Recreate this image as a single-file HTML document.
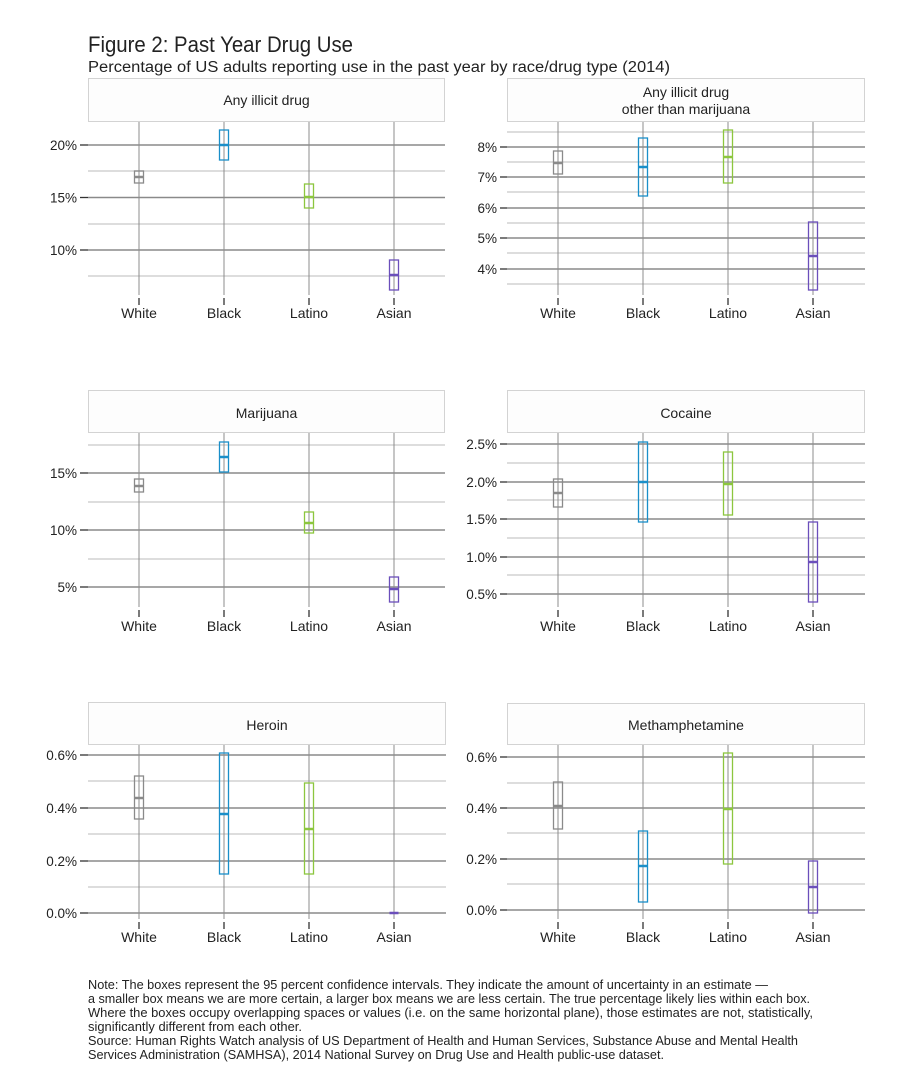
<!DOCTYPE html>
<html><head><meta charset="utf-8"><style>
html,body{margin:0;padding:0;background:#fff;}
svg{display:block;}
text{font-family:"Liberation Sans",sans-serif;fill:#222;}
.mn{stroke:#d2d2d2;stroke-width:1.5;}
.mj{stroke:#8a8a8a;stroke-width:1.4;}
.vl{stroke:#8c8c8c;stroke-width:1;}
.tk{stroke:#333;stroke-width:1.3;}
.strip{fill:#fdfdfd;stroke:#d3d3d3;stroke-width:1;}
.yl{font-size:13.5px;text-anchor:end;}
.xl{font-size:14px;text-anchor:middle;}
.st{font-size:14px;text-anchor:middle;}
.nt{font-size:13px;}
.bw{fill:none;stroke:#8a8a8a;stroke-width:1.3;}
.bb{fill:none;stroke:#1a8fc9;stroke-width:1.3;}
.bl{fill:none;stroke:#8cc63e;stroke-width:1.3;}
.ba{fill:none;stroke:#6b4fbb;stroke-width:1.3;}
.mw{stroke:#8a8a8a;stroke-width:2.5;}
.mb{stroke:#1a8fc9;stroke-width:2.5;}
.ml{stroke:#8cc63e;stroke-width:2.5;}
.ma{stroke:#6b4fbb;stroke-width:2.5;}
</style></head><body>
<svg width="900" height="1080" viewBox="0 0 900 1080" xmlns="http://www.w3.org/2000/svg">
<rect width="900" height="1080" fill="#fff"/>
<text x="88" y="52" font-size="22" textLength="265" lengthAdjust="spacingAndGlyphs">Figure 2: Past Year Drug Use</text>
<text x="88" y="72" font-size="15.5" textLength="582" lengthAdjust="spacingAndGlyphs">Percentage of US adults reporting use in the past year by race/drug type (2014)</text>

<!-- Panel 1 -->
<rect class="strip" x="88.5" y="78.5" width="356" height="43"/>
<text class="st" x="266.5" y="105">Any illicit drug</text>
<line class="mn" x1="88" x2="445" y1="171" y2="171"/>
<line class="mn" x1="88" x2="445" y1="224" y2="224"/>
<line class="mn" x1="88" x2="445" y1="276" y2="276"/>
<line class="mj" x1="88" x2="445" y1="145" y2="145"/>
<line class="mj" x1="88" x2="445" y1="197.5" y2="197.5"/>
<line class="mj" x1="88" x2="445" y1="250" y2="250"/>
<line class="tk" x1="80" x2="88" y1="145" y2="145"/>
<line class="tk" x1="80" x2="88" y1="197.5" y2="197.5"/>
<line class="tk" x1="80" x2="88" y1="250" y2="250"/>
<text class="yl" x="77" y="150">20%</text>
<text class="yl" x="77" y="202.5">15%</text>
<text class="yl" x="77" y="255">10%</text>
<line class="vl" x1="139" x2="139" y1="122" y2="295"/>
<line class="vl" x1="224" x2="224" y1="122" y2="295"/>
<line class="vl" x1="309" x2="309" y1="122" y2="295"/>
<line class="vl" x1="394" x2="394" y1="122" y2="295"/>
<line class="tk" x1="139" x2="139" y1="298" y2="305"/>
<line class="tk" x1="224" x2="224" y1="298" y2="305"/>
<line class="tk" x1="309" x2="309" y1="298" y2="305"/>
<line class="tk" x1="394" x2="394" y1="298" y2="305"/>
<text class="xl" x="139" y="318">White</text>
<text class="xl" x="224" y="318">Black</text>
<text class="xl" x="309" y="318">Latino</text>
<text class="xl" x="394" y="318">Asian</text>
<rect class="bw" x="134.5" y="171" width="9" height="12"/><line class="mw" x1="134.5" x2="143.5" y1="177" y2="177"/>
<rect class="bb" x="219.5" y="130" width="9" height="30"/><line class="mb" x1="219.5" x2="228.5" y1="145" y2="145"/>
<rect class="bl" x="304.5" y="184" width="9" height="24"/><line class="ml" x1="304.5" x2="313.5" y1="197" y2="197"/>
<rect class="ba" x="389.5" y="260" width="9" height="30"/><line class="ma" x1="389.5" x2="398.5" y1="275" y2="275"/>

<!-- Panel 2 -->
<rect class="strip" x="507.5" y="78.5" width="357" height="43"/>
<text class="st" x="686" y="97">Any illicit drug</text>
<text class="st" x="686" y="114">other than marijuana</text>
<line class="mn" x1="507" x2="865" y1="132" y2="132"/>
<line class="mn" x1="507" x2="865" y1="162" y2="162"/>
<line class="mn" x1="507" x2="865" y1="192" y2="192"/>
<line class="mn" x1="507" x2="865" y1="223" y2="223"/>
<line class="mn" x1="507" x2="865" y1="253" y2="253"/>
<line class="mn" x1="507" x2="865" y1="284" y2="284"/>
<line class="mj" x1="507" x2="865" y1="147" y2="147"/>
<line class="mj" x1="507" x2="865" y1="177" y2="177"/>
<line class="mj" x1="507" x2="865" y1="208" y2="208"/>
<line class="mj" x1="507" x2="865" y1="238" y2="238"/>
<line class="mj" x1="507" x2="865" y1="269" y2="269"/>
<line class="tk" x1="500" x2="507" y1="147" y2="147"/>
<line class="tk" x1="500" x2="507" y1="177" y2="177"/>
<line class="tk" x1="500" x2="507" y1="208" y2="208"/>
<line class="tk" x1="500" x2="507" y1="238" y2="238"/>
<line class="tk" x1="500" x2="507" y1="269" y2="269"/>
<text class="yl" x="497" y="152">8%</text>
<text class="yl" x="497" y="182">7%</text>
<text class="yl" x="497" y="213">6%</text>
<text class="yl" x="497" y="243">5%</text>
<text class="yl" x="497" y="274">4%</text>
<line class="vl" x1="558" x2="558" y1="122" y2="295"/>
<line class="vl" x1="643" x2="643" y1="122" y2="295"/>
<line class="vl" x1="728" x2="728" y1="122" y2="295"/>
<line class="vl" x1="813" x2="813" y1="122" y2="295"/>
<line class="tk" x1="558" x2="558" y1="298" y2="305"/>
<line class="tk" x1="643" x2="643" y1="298" y2="305"/>
<line class="tk" x1="728" x2="728" y1="298" y2="305"/>
<line class="tk" x1="813" x2="813" y1="298" y2="305"/>
<text class="xl" x="558" y="318">White</text>
<text class="xl" x="643" y="318">Black</text>
<text class="xl" x="728" y="318">Latino</text>
<text class="xl" x="813" y="318">Asian</text>
<rect class="bw" x="553.5" y="151" width="9" height="23"/><line class="mw" x1="553.5" x2="562.5" y1="163" y2="163"/>
<rect class="bb" x="638.5" y="138" width="9" height="58"/><line class="mb" x1="638.5" x2="647.5" y1="167" y2="167"/>
<rect class="bl" x="723.5" y="130" width="9" height="53"/><line class="ml" x1="723.5" x2="732.5" y1="157" y2="157"/>
<rect class="ba" x="808.5" y="222" width="9" height="68"/><line class="ma" x1="808.5" x2="817.5" y1="256" y2="256"/>

<!-- Panel 3 -->
<rect class="strip" x="88.5" y="390.5" width="356" height="42"/>
<text class="st" x="266.5" y="418">Marijuana</text>
<line class="mn" x1="88" x2="445" y1="445" y2="445"/>
<line class="mn" x1="88" x2="445" y1="502" y2="502"/>
<line class="mn" x1="88" x2="445" y1="559" y2="559"/>
<line class="mj" x1="88" x2="445" y1="473" y2="473"/>
<line class="mj" x1="88" x2="445" y1="530" y2="530"/>
<line class="mj" x1="88" x2="445" y1="587" y2="587"/>
<line class="tk" x1="80" x2="88" y1="473" y2="473"/>
<line class="tk" x1="80" x2="88" y1="530" y2="530"/>
<line class="tk" x1="80" x2="88" y1="587" y2="587"/>
<text class="yl" x="77" y="478">15%</text>
<text class="yl" x="77" y="535">10%</text>
<text class="yl" x="77" y="592">5%</text>
<line class="vl" x1="139" x2="139" y1="433" y2="607"/>
<line class="vl" x1="224" x2="224" y1="433" y2="607"/>
<line class="vl" x1="309" x2="309" y1="433" y2="607"/>
<line class="vl" x1="394" x2="394" y1="433" y2="607"/>
<line class="tk" x1="139" x2="139" y1="610" y2="617"/>
<line class="tk" x1="224" x2="224" y1="610" y2="617"/>
<line class="tk" x1="309" x2="309" y1="610" y2="617"/>
<line class="tk" x1="394" x2="394" y1="610" y2="617"/>
<text class="xl" x="139" y="631">White</text>
<text class="xl" x="224" y="631">Black</text>
<text class="xl" x="309" y="631">Latino</text>
<text class="xl" x="394" y="631">Asian</text>
<rect class="bw" x="134.5" y="479" width="9" height="13"/><line class="mw" x1="134.5" x2="143.5" y1="486" y2="486"/>
<rect class="bb" x="219.5" y="442" width="9" height="30"/><line class="mb" x1="219.5" x2="228.5" y1="457" y2="457"/>
<rect class="bl" x="304.5" y="512" width="9" height="21"/><line class="ml" x1="304.5" x2="313.5" y1="523" y2="523"/>
<rect class="ba" x="389.5" y="577" width="9" height="25"/><line class="ma" x1="389.5" x2="398.5" y1="589" y2="589"/>

<!-- Panel 4 -->
<rect class="strip" x="507.5" y="390.5" width="357" height="42"/>
<text class="st" x="686" y="418">Cocaine</text>
<line class="mn" x1="507" x2="865" y1="463" y2="463"/>
<line class="mn" x1="507" x2="865" y1="500" y2="500"/>
<line class="mn" x1="507" x2="865" y1="538" y2="538"/>
<line class="mn" x1="507" x2="865" y1="575" y2="575"/>
<line class="mj" x1="507" x2="865" y1="444" y2="444"/>
<line class="mj" x1="507" x2="865" y1="482" y2="482"/>
<line class="mj" x1="507" x2="865" y1="519" y2="519"/>
<line class="mj" x1="507" x2="865" y1="557" y2="557"/>
<line class="mj" x1="507" x2="865" y1="594" y2="594"/>
<line class="tk" x1="500" x2="507" y1="444" y2="444"/>
<line class="tk" x1="500" x2="507" y1="482" y2="482"/>
<line class="tk" x1="500" x2="507" y1="519" y2="519"/>
<line class="tk" x1="500" x2="507" y1="557" y2="557"/>
<line class="tk" x1="500" x2="507" y1="594" y2="594"/>
<text class="yl" x="497" y="449">2.5%</text>
<text class="yl" x="497" y="487">2.0%</text>
<text class="yl" x="497" y="524">1.5%</text>
<text class="yl" x="497" y="562">1.0%</text>
<text class="yl" x="497" y="599">0.5%</text>
<line class="vl" x1="558" x2="558" y1="433" y2="607"/>
<line class="vl" x1="643" x2="643" y1="433" y2="607"/>
<line class="vl" x1="728" x2="728" y1="433" y2="607"/>
<line class="vl" x1="813" x2="813" y1="433" y2="607"/>
<line class="tk" x1="558" x2="558" y1="610" y2="617"/>
<line class="tk" x1="643" x2="643" y1="610" y2="617"/>
<line class="tk" x1="728" x2="728" y1="610" y2="617"/>
<line class="tk" x1="813" x2="813" y1="610" y2="617"/>
<text class="xl" x="558" y="631">White</text>
<text class="xl" x="643" y="631">Black</text>
<text class="xl" x="728" y="631">Latino</text>
<text class="xl" x="813" y="631">Asian</text>
<rect class="bw" x="553.5" y="479" width="9" height="28"/><line class="mw" x1="553.5" x2="562.5" y1="493" y2="493"/>
<rect class="bb" x="638.5" y="442" width="9" height="80"/><line class="mb" x1="638.5" x2="647.5" y1="482" y2="482"/>
<rect class="bl" x="723.5" y="452" width="9" height="63"/><line class="ml" x1="723.5" x2="732.5" y1="484" y2="484"/>
<rect class="ba" x="808.5" y="522" width="9" height="80"/><line class="ma" x1="808.5" x2="817.5" y1="562" y2="562"/>

<!-- Panel 5 -->
<rect class="strip" x="88.5" y="702.5" width="357" height="42"/>
<text class="st" x="267" y="730">Heroin</text>
<line class="mn" x1="88" x2="446" y1="781" y2="781"/>
<line class="mn" x1="88" x2="446" y1="834" y2="834"/>
<line class="mn" x1="88" x2="446" y1="887" y2="887"/>
<line class="mj" x1="88" x2="446" y1="755" y2="755"/>
<line class="mj" x1="88" x2="446" y1="808" y2="808"/>
<line class="mj" x1="88" x2="446" y1="861" y2="861"/>
<line class="mj" x1="88" x2="446" y1="913" y2="913"/>
<line class="tk" x1="80" x2="88" y1="755" y2="755"/>
<line class="tk" x1="80" x2="88" y1="808" y2="808"/>
<line class="tk" x1="80" x2="88" y1="861" y2="861"/>
<line class="tk" x1="80" x2="88" y1="913" y2="913"/>
<text class="yl" x="77" y="760">0.6%</text>
<text class="yl" x="77" y="813">0.4%</text>
<text class="yl" x="77" y="866">0.2%</text>
<text class="yl" x="77" y="918">0.0%</text>
<line class="vl" x1="139" x2="139" y1="745" y2="919"/>
<line class="vl" x1="224" x2="224" y1="745" y2="919"/>
<line class="vl" x1="309" x2="309" y1="745" y2="919"/>
<line class="vl" x1="394" x2="394" y1="745" y2="919"/>
<line class="tk" x1="139" x2="139" y1="922" y2="929"/>
<line class="tk" x1="224" x2="224" y1="922" y2="929"/>
<line class="tk" x1="309" x2="309" y1="922" y2="929"/>
<line class="tk" x1="394" x2="394" y1="922" y2="929"/>
<text class="xl" x="139" y="942">White</text>
<text class="xl" x="224" y="942">Black</text>
<text class="xl" x="309" y="942">Latino</text>
<text class="xl" x="394" y="942">Asian</text>
<rect class="bw" x="134.5" y="776" width="9" height="43"/><line class="mw" x1="134.5" x2="143.5" y1="798" y2="798"/>
<rect class="bb" x="219.5" y="753" width="9" height="121"/><line class="mb" x1="219.5" x2="228.5" y1="814" y2="814"/>
<rect class="bl" x="304.5" y="783" width="9" height="91"/><line class="ml" x1="304.5" x2="313.5" y1="829" y2="829"/>
<line class="ma" x1="389.5" x2="398.5" y1="913" y2="913"/>

<!-- Panel 6 -->
<rect class="strip" x="507.5" y="703.5" width="357" height="41"/>
<text class="st" x="686" y="730">Methamphetamine</text>
<line class="mn" x1="507" x2="865" y1="783" y2="783"/>
<line class="mn" x1="507" x2="865" y1="833" y2="833"/>
<line class="mn" x1="507" x2="865" y1="884" y2="884"/>
<line class="mj" x1="507" x2="865" y1="757" y2="757"/>
<line class="mj" x1="507" x2="865" y1="808" y2="808"/>
<line class="mj" x1="507" x2="865" y1="859" y2="859"/>
<line class="mj" x1="507" x2="865" y1="910" y2="910"/>
<line class="tk" x1="500" x2="507" y1="757" y2="757"/>
<line class="tk" x1="500" x2="507" y1="808" y2="808"/>
<line class="tk" x1="500" x2="507" y1="859" y2="859"/>
<line class="tk" x1="500" x2="507" y1="910" y2="910"/>
<text class="yl" x="497" y="762">0.6%</text>
<text class="yl" x="497" y="813">0.4%</text>
<text class="yl" x="497" y="864">0.2%</text>
<text class="yl" x="497" y="915">0.0%</text>
<line class="vl" x1="558" x2="558" y1="745" y2="919"/>
<line class="vl" x1="643" x2="643" y1="745" y2="919"/>
<line class="vl" x1="728" x2="728" y1="745" y2="919"/>
<line class="vl" x1="813" x2="813" y1="745" y2="919"/>
<line class="tk" x1="558" x2="558" y1="922" y2="929"/>
<line class="tk" x1="643" x2="643" y1="922" y2="929"/>
<line class="tk" x1="728" x2="728" y1="922" y2="929"/>
<line class="tk" x1="813" x2="813" y1="922" y2="929"/>
<text class="xl" x="558" y="942">White</text>
<text class="xl" x="643" y="942">Black</text>
<text class="xl" x="728" y="942">Latino</text>
<text class="xl" x="813" y="942">Asian</text>
<rect class="bw" x="553.5" y="782" width="9" height="47"/><line class="mw" x1="553.5" x2="562.5" y1="806" y2="806"/>
<rect class="bb" x="638.5" y="831" width="9" height="71"/><line class="mb" x1="638.5" x2="647.5" y1="866" y2="866"/>
<rect class="bl" x="723.5" y="753" width="9" height="111"/><line class="ml" x1="723.5" x2="732.5" y1="809" y2="809"/>
<rect class="ba" x="808.5" y="861" width="9" height="52"/><line class="ma" x1="808.5" x2="817.5" y1="887" y2="887"/>

<!-- Notes -->
<text class="nt" x="88" y="989" textLength="680" lengthAdjust="spacingAndGlyphs">Note: The boxes represent the 95 percent confidence intervals. They indicate the amount of uncertainty in an estimate —</text>
<text class="nt" x="88" y="1003" textLength="722" lengthAdjust="spacingAndGlyphs">a smaller box means we are more certain, a larger box means we are less certain. The true percentage likely lies within each box.</text>
<text class="nt" x="88" y="1017" textLength="725" lengthAdjust="spacingAndGlyphs">Where the boxes occupy overlapping spaces or values (i.e. on the same horizontal plane), those estimates are not, statistically,</text>
<text class="nt" x="88" y="1031" textLength="214" lengthAdjust="spacingAndGlyphs">significantly different from each other.</text>
<text class="nt" x="88" y="1045" textLength="710" lengthAdjust="spacingAndGlyphs">Source: Human Rights Watch analysis of US Department of Health and Human Services, Substance Abuse and Mental Health</text>
<text class="nt" x="88" y="1059" textLength="576" lengthAdjust="spacingAndGlyphs">Services Administration (SAMHSA), 2014 National Survey on Drug Use and Health public-use dataset.</text>
</svg>
</body></html>
